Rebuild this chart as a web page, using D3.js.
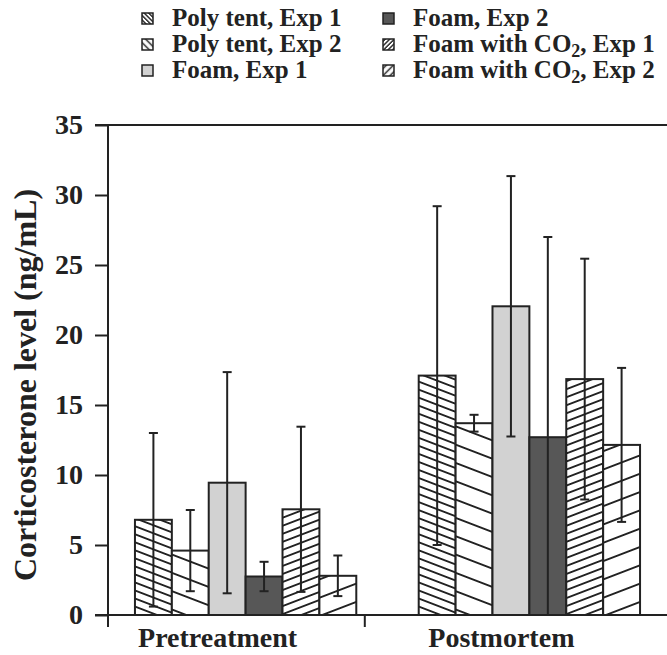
<!DOCTYPE html>
<html>
<head>
<meta charset="utf-8">
<script src="https://cdn.jsdelivr.net/npm/d3@7"></script>
<style>
  html, body { margin: 0; padding: 0; background: #fff; }
  svg { display: block; }
  text { font-family: "Liberation Serif", "Times New Roman", serif; font-weight: bold; fill: #222; }
</style>
</head>
<body>
<svg id="chart" width="667" height="655"></svg>
<script>
// ---- data ----
const categories = ["Pretreatment", "Postmortem"];
const seriesNames = ["Poly tent, Exp 1", "Poly tent, Exp 2", "Foam, Exp 1", "Foam, Exp 2", "Foam with CO2, Exp 1", "Foam with CO2, Exp 2"];
const pretreatmentMeans = [6.8, 4.6, 9.45, 2.75, 7.55, 2.8];
const pretreatmentErrors = [6.2, 2.9, 7.9, 1.05, 5.9, 1.45];
const postmortemMeans = [17.1, 13.7, 22.05, 12.7, 16.85, 12.15];
const postmortemErrors = [12.1, 0.6, 9.3, 14.3, 8.6, 5.5];
const yTicks = [0, 5, 10, 15, 20, 25, 30, 35];

const meansByCat = [pretreatmentMeans, postmortemMeans];
const errsByCat = [pretreatmentErrors, postmortemErrors];

const svg = d3.select("#chart");
const ink = "#222";

// ---- scales ----
const y = d3.scaleLinear().domain([0, 35]).range([615, 125]);
const x0 = d3.scaleBand().domain(categories).range([108, 667]).paddingInner(0.22).paddingOuter(0.095);
const x1 = d3.scaleBand().domain(d3.range(seriesNames.length)).range([0, x0.bandwidth()]).padding(0);

// ---- patterns ----
const defs = svg.append("defs");
function linePattern(id, angle, spacing, sw) {
  const p = defs.append("pattern").attr("id", id)
    .attr("patternUnits", "userSpaceOnUse")
    .attr("width", 40).attr("height", spacing)
    .attr("patternTransform", `rotate(${angle})`);
  p.append("rect").attr("width", 40).attr("height", spacing).attr("fill", "#fff");
  p.append("line").attr("x1", 0).attr("x2", 40).attr("y1", spacing / 2).attr("y2", spacing / 2)
    .attr("stroke", ink).attr("stroke-width", sw);
}
linePattern("pt1", 21, 7.5, 2);
linePattern("pt2", 21, 17.1, 2);
linePattern("co1", -21, 7.5, 2);
linePattern("co2", -21, 17.1, 2);
linePattern("lpt1", 45, 3.2, 1.4);
linePattern("lpt2", 45, 5, 1.4);
linePattern("lco1", -45, 3.2, 1.4);
linePattern("lco2", -45, 5, 1.4);

const fills = ["url(#pt1)", "url(#pt2)", "#d2d2d2", "#575757", "url(#co1)", "url(#co2)"];
const legendFills = ["url(#lpt1)", "url(#lpt2)", "#d2d2d2", "#575757", "url(#lco1)", "url(#lco2)"];

// ---- bars ----
const groups = svg.append("g").selectAll("g").data(categories).join("g")
  .attr("transform", d => `translate(${x0(d)},0)`);

groups.each(function(cat, ci) {
  const g = d3.select(this);
  const rows = meansByCat[ci].map((v, i) => ({ i, v, e: errsByCat[ci][i] }));
  g.selectAll("rect").data(rows).join("rect")
    .attr("x", d => x1(d.i))
    .attr("y", d => y(d.v))
    .attr("width", x1.bandwidth())
    .attr("height", d => y(0) - y(d.v))
    .attr("fill", d => fills[d.i])
    .attr("stroke", ink).attr("stroke-width", 2);
  const cap = 9;
  const eb = g.selectAll("g.err").data(rows).join("g").attr("class", "err");
  eb.append("line")
    .attr("x1", d => x1(d.i) + x1.bandwidth() / 2).attr("x2", d => x1(d.i) + x1.bandwidth() / 2)
    .attr("y1", d => y(d.v + d.e)).attr("y2", d => y(Math.max(0, d.v - d.e)))
    .attr("stroke", ink).attr("stroke-width", 2);
  eb.append("line")
    .attr("x1", d => x1(d.i) + x1.bandwidth() / 2 - cap / 2).attr("x2", d => x1(d.i) + x1.bandwidth() / 2 + cap / 2)
    .attr("y1", d => y(d.v + d.e)).attr("y2", d => y(d.v + d.e))
    .attr("stroke", ink).attr("stroke-width", 2);
  eb.filter(d => d.v - d.e > 0).append("line")
    .attr("x1", d => x1(d.i) + x1.bandwidth() / 2 - cap / 2).attr("x2", d => x1(d.i) + x1.bandwidth() / 2 + cap / 2)
    .attr("y1", d => y(d.v - d.e)).attr("y2", d => y(d.v - d.e))
    .attr("stroke", ink).attr("stroke-width", 2);
});

// ---- axes ----
const yAxis = svg.append("g").attr("transform", "translate(108,0)")
  .call(d3.axisLeft(y).tickValues(yTicks).tickSize(13).tickPadding(12));
yAxis.select(".domain").remove();
yAxis.selectAll(".tick line").attr("stroke", ink).attr("stroke-width", 2);
yAxis.selectAll(".tick text").attr("font-size", 28).attr("fill", ink)
  .style("font-family", '"Liberation Serif", serif').style("font-weight", "bold");

// vertical axis line (extends below zero to tick length)
svg.append("line").attr("x1", 108).attr("x2", 108).attr("y1", y(35)).attr("y2", y(0) + 12)
  .attr("stroke", ink).attr("stroke-width", 2);
// top frame line
svg.append("line").attr("x1", 95).attr("x2", 667).attr("y1", y(35)).attr("y2", y(35))
  .attr("stroke", ink).attr("stroke-width", 2);
// baseline
svg.append("line").attr("x1", 95).attr("x2", 667).attr("y1", y(0)).attr("y2", y(0))
  .attr("stroke", ink).attr("stroke-width", 2);
// category separator tick
const sepX = x0("Postmortem") - x0.step() * 0.19;
svg.append("line").attr("x1", sepX).attr("x2", sepX).attr("y1", y(0)).attr("y2", y(0) + 12)
  .attr("stroke", ink).attr("stroke-width", 2);

// category labels
svg.append("g").selectAll("text").data(categories).join("text")
  .attr("x", d => x0(d) + x0.bandwidth() / 2 - 28)
  .attr("y", 647)
  .attr("text-anchor", "middle")
  .attr("font-size", 28)
  .text(d => d);

// y label
svg.append("text")
  .attr("transform", "rotate(-90)")
  .attr("x", -385).attr("y", 36)
  .attr("text-anchor", "middle")
  .attr("font-size", 32)
  .text("Corticosterone level (ng/mL)");

// ---- legend ----
const legendCols = [142, 383];
const legendRows = [13, 39, 65];
const legendOrder = [0, 1, 2, 3, 4, 5];
const lg = svg.append("g").selectAll("g").data(legendOrder).join("g")
  .attr("transform", (d, k) => `translate(${legendCols[Math.floor(k / 3)]},${legendRows[k % 3]})`);
lg.append("rect").attr("width", 11).attr("height", 11)
  .attr("fill", d => legendFills[d]).attr("stroke", ink).attr("stroke-width", 1.5);
lg.append("text").attr("x", 30).attr("y", 12.5).attr("font-size", 25)
  .each(function(d) {
    const t = d3.select(this);
    const name = seriesNames[d];
    const m = name.match(/^(.*CO)2(.*)$/);
    if (m) {
      t.append("tspan").text(m[1]);
      t.append("tspan").attr("dy", 5).attr("font-size", 18).text("2");
      t.append("tspan").attr("dy", -5).text(m[2]);
    } else {
      t.text(name);
    }
  });
</script>
</body>
</html>
